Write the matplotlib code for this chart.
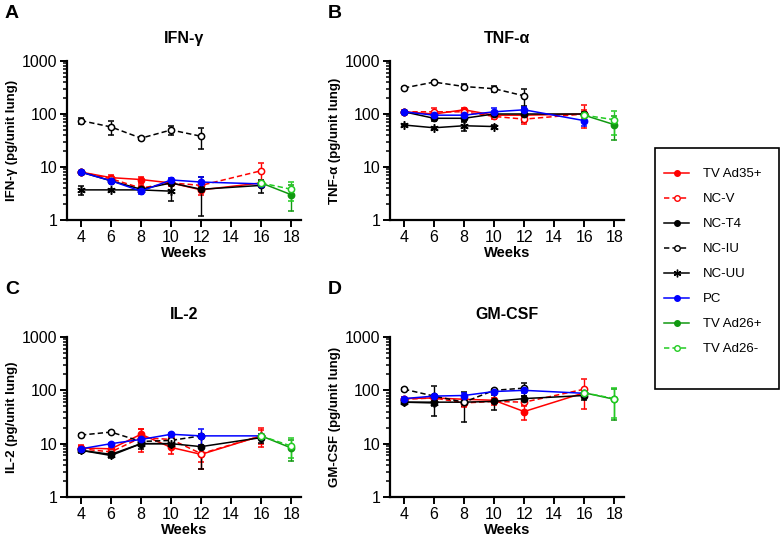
import matplotlib
matplotlib.use("Agg")
import matplotlib.pyplot as plt
import numpy as np
from matplotlib.lines import Line2D
from matplotlib.patches import Rectangle
from matplotlib.ticker import FixedLocator, FixedFormatter, LogLocator, NullFormatter

plt.rcParams['font.family'] = ['Liberation Sans', 'DejaVu Sans']

weeks = [4, 6, 8, 10, 12, 16, 18]
series_names = ["TV Ad35+", "NC-V", "NC-T4", "NC-IU", "NC-UU", "PC", "TV Ad26+", "TV Ad26-"]
series_weeks = {
    "TV Ad35+": [4, 6, 8, 10, 12, 16],
    "NC-V": [4, 6, 8, 10, 12, 16],
    "NC-T4": [4, 6, 8, 10, 12, 16],
    "NC-IU": [4, 6, 8, 10, 12],
    "NC-UU": [4, 6, 8, 10],
    "PC": [4, 6, 8, 10, 12, 16],
    "TV Ad26+": [16, 18],
    "TV Ad26-": [16, 18],
}

# Panel A: IFN-gamma (value, symmetric error)
ifn = {
    "TV Ad35+": [8.0, 6.3, 5.8, 5.0, 3.7, 5.0],
    "NC-V": [8.0, 6.0, 4.0, 5.0, 4.5, 8.5],
    "NC-T4": [8.0, 5.5, 3.8, 5.0, 3.8, 4.5],
    "NC-IU": [75, 57, 35, 50, 38],
    "NC-UU": [3.7, 3.7, 3.7, 3.5],
    "PC": [8.0, 5.5, 3.5, 5.7, 5.2, 4.8],
    "TV Ad26+": [5.0, 3.0],
    "TV Ad26-": [5.0, 3.8],
}
ifn_err = {
    "TV Ad35+": [0.4, 0.8, 0.8, 0.6, 0.8, 0.5],
    "NC-V": [0, 0.5, 0.5, 0.5, 0.8, 3.5],
    "NC-T4": [0, 0.4, 0.4, 0.5, 2.6, 1.3],
    "NC-IU": [10, 16, 2, 9, 16],
    "NC-UU": [0.7, 0.2, 0.2, 1.2],
    "PC": [0, 0.3, 0.4, 0.6, 1.2, 0.4],
    "TV Ad26+": [0, 1.5],
    "TV Ad26-": [0, 1.5],
}

# Panel B: TNF-alpha
tnf = {
    "TV Ad35+": [110, 100, 120, 95, 95, 100],
    "NC-V": [110, 110, 110, 90, 80, 100],
    "NC-T4": [110, 83, 83, 100, 100, 100],
    "NC-IU": [310, 400, 330, 300, 220],
    "NC-UU": [62, 55, 60, 58],
    "PC": [110, 95, 95, 110, 120, 75],
    "TV Ad26+": [95, 63],
    "TV Ad26-": [95, 78],
}
tnf_err = {
    "TV Ad35+": [8, 10, 12, 10, 10, 45],
    "NC-V": [0, 20, 10, 10, 15, 20],
    "NC-T4": [0, 8, 10, 10, 30, 10],
    "NC-IU": [15, 20, 40, 35, 80],
    "NC-UU": [3, 3, 12, 3],
    "PC": [0, 8, 8, 20, 15, 15],
    "TV Ad26+": [0, 30],
    "TV Ad26-": [0, 38],
}

# Panel C: IL-2
il2 = {
    "TV Ad35+": [8.3, 8.0, 15.0, 8.5, 6.3, 14.0],
    "NC-V": [8.0, 7.0, 13.0, 12.0, 6.5, 14.0],
    "NC-T4": [7.5, 6.3, 10.0, 10.0, 8.8, 13.0],
    "NC-IU": [14.5, 16.5, 11.0, 11.5, 14.0],
    "NC-UU": [7.5, 6.0, 10.0, 10.0],
    "PC": [8.0, 10.0, 12.0, 15.0, 14.0, 14.0],
    "TV Ad26+": [14.0, 8.3],
    "TV Ad26-": [14.0, 9.0],
}
il2_err = {
    "TV Ad35+": [1.2, 1.5, 3.5, 2.0, 3.0, 5.5],
    "NC-V": [1.0, 1.0, 6.0, 2.0, 2.0, 4.0],
    "NC-T4": [0.8, 0.5, 2.0, 1.0, 5.5, 2.5],
    "NC-IU": [0.5, 0.5, 1.0, 1.0, 1.0],
    "NC-UU": [0.5, 0.5, 1.0, 1.0],
    "PC": [0.5, 0.5, 1.0, 1.0, 4.5, 1.0],
    "TV Ad26+": [0, 3.5],
    "TV Ad26-": [0, 3.5],
}

# Panel D: GM-CSF
gm = {
    "TV Ad35+": [70, 72, 68, 65, 40, 90],
    "NC-V": [68, 72, 58, 62, 60, 105],
    "NC-T4": [60, 60, 60, 62, 70, 80],
    "NC-IU": [105, 78, 60, 100, 110],
    "NC-UU": [60, 58],
    "PC": [70, 78, 80, 95, 100, 88],
    "TV Ad26+": [90, 68],
    "TV Ad26-": [90, 70],
}
gm_err = {
    "TV Ad35+": [6, 6, 8, 8, 12, 10],
    "NC-V": [5, 5, 10, 8, 10, 60],
    "NC-T4": [5, 10, 35, 20, 10, 15],
    "NC-IU": [8, 45, 10, 8, 30],
    "NC-UU": [5, 5],
    "PC": [5, 5, 10, 8, 10, 8],
    "TV Ad26+": [0, 40],
    "TV Ad26-": [0, 40],
}

DASH = (0, (3.5, 2.0))
styles = {
    "TV Ad35+": dict(color="#ff0000", ls="-", marker="o", mfc="#ff0000"),
    "NC-V": dict(color="#ff0000", ls=DASH, marker="o", mfc="white"),
    "NC-T4": dict(color="black", ls="-", marker="o", mfc="black"),
    "NC-IU": dict(color="black", ls=DASH, marker="o", mfc="white"),
    "NC-UU": dict(color="black", ls="-", marker=(6, 2, 0), mfc="black"),
    "PC": dict(color="#0000ff", ls="-", marker="o", mfc="#0000ff"),
    "TV Ad26+": dict(color="#119911", ls="-", marker="o", mfc="#119911"),
    "TV Ad26-": dict(color="#22cc22", ls=DASH, marker="o", mfc="white"),
}

fig = plt.figure(figsize=(7.82, 5.37), dpi=100)

W, H = 782, 537
def ax_at(left, top, right, bottom):
    return fig.add_axes([left / W, 1 - bottom / H, (right - left) / W, (bottom - top) / H])

panels = [
    ("A", "IFN-γ", "IFN-γ (pg/unit lung)", ifn, ifn_err, (67, 61, 301, 220)),
    ("B", "TNF-α", "TNF-α (pg/unit lung)", tnf, tnf_err, (390, 61, 624, 220)),
    ("C", "IL-2", "IL-2 (pg/unit lung)", il2, il2_err, (67, 337, 301, 497)),
    ("D", "GM-CSF", "GM-CSF (pg/unit lung)", gm, gm_err, (390, 337, 624, 497)),
]

for letter, title, ylabel, data, err, box in panels:
    ax = ax_at(*box)
    for name in series_names:
        if name not in data:
            continue
        xs = series_weeks[name][:len(data[name])]
        st = styles[name]
        ax.errorbar(xs, data[name], yerr=err[name], color=st["color"], ls=st["ls"],
                    lw=1.1, marker=st["marker"], ms=4.5 if st["marker"] == "o" else 6,
                    mfc=st["mfc"], mec=st["color"], mew=1.1,
                    ecolor=st["color"], elinewidth=1.0, capsize=2.5, capthick=1.0,
                    label=name)
    ax.set_yscale("log")
    ax.set_ylim(1, 1000)
    ax.set_xlim(3.07, 18.65)
    ax.set_xticks([4, 6, 8, 10, 12, 14, 16, 18])
    ax.yaxis.set_major_locator(FixedLocator([1, 10, 100, 1000]))
    ax.yaxis.set_major_formatter(FixedFormatter(["1", "10", "100", "1000"]))
    ax.yaxis.set_minor_locator(LogLocator(base=10, subs=np.arange(2, 10)))
    ax.yaxis.set_minor_formatter(NullFormatter())
    for s in ["top", "right"]:
        ax.spines[s].set_visible(False)
    for s in ["left", "bottom"]:
        ax.spines[s].set_linewidth(1.6)
    ax.tick_params(axis="both", which="major", length=5, width=1.4, labelsize=11.5, pad=2)
    ax.tick_params(axis="y", which="minor", length=3, width=1.1)
    ax.set_xlabel("Weeks", fontsize=10.5, fontweight="bold", labelpad=1)
    ax.set_ylabel(ylabel, fontsize=9.5, fontweight="bold", labelpad=3)
    ax.set_title(title, fontsize=11.5, fontweight="bold", pad=13)
    fig.text((box[0] - 62) / W, 1 - (box[1] - 47) / H, letter, fontsize=14, fontweight="bold",
             ha="left", va="center")

handles = []
for name in series_names:
    st = styles[name]
    handles.append(Line2D([], [], color=st["color"], ls=st["ls"], lw=1.1, marker=st["marker"],
                          ms=4 if st["marker"] == "o" else 5.5, mfc=st["mfc"], mec=st["color"],
                          mew=1.0))

fig.patches.append(Rectangle((655 / W, 1 - 389 / H), (779 - 655) / W, (389 - 148) / H,
                             transform=fig.transFigure, fill=False, edgecolor="black",
                             linewidth=1.2))
leg = fig.legend(handles, series_names, loc="upper left",
                 bbox_to_anchor=(664 / W, 1 - 168 / H),
                 fontsize=9.5, frameon=False,
                 labelspacing=0.97, handlelength=1.9, handletextpad=1.05,
                 borderpad=0.0, borderaxespad=0)

fig.savefig("out.png", dpi=100)
